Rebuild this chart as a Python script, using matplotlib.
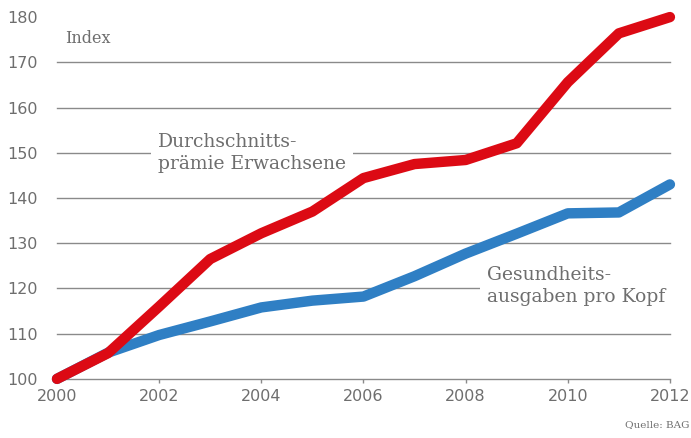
import matplotlib
matplotlib.use('Agg')
import matplotlib.pyplot as plt

# index values (2000 = 100)
years = [2000, 2001, 2002, 2003, 2004, 2005, 2006, 2007, 2008, 2009, 2010, 2011, 2012]
praemie = [100, 105.7, 116, 126.5, 132.2, 137, 144.4, 147.5, 148.4, 152.1, 165.6, 176.4, 180]
ausgaben = [100, 105.8, 109.7, 112.7, 115.8, 117.3, 118.2, 122.7, 127.7, 132.1, 136.6, 136.8, 143]

xticks = [2000, 2002, 2004, 2006, 2008, 2010, 2012]
yticks = [100, 110, 120, 130, 140, 150, 160, 170, 180]

red = '#dc0a14'
blue = '#2f7fc4'
grey = '#6e6e6e'

fig = plt.figure(figsize=(6.91, 4.38), dpi=100)
ax = fig.add_axes([0.0825, 0.135, 0.887, 0.826])

# gridlines (no line at the top value)
for y in yticks[:-1]:
    ax.axhline(y, color='#8a8a8a', lw=1.0, zorder=1, clip_on=False)

ax.plot(years, ausgaben, color=blue, lw=7.5, solid_capstyle='round',
        solid_joinstyle='round', zorder=3, clip_on=False)
ax.plot(years, praemie, color=red, lw=7.5, solid_capstyle='round',
        solid_joinstyle='round', zorder=4, clip_on=False)

ax.set_xlim(2000, 2012)
ax.set_ylim(100, 180)
ax.set_xticks(xticks)
ax.set_yticks(yticks)
for s in ax.spines.values():
    s.set_visible(False)
ax.tick_params(axis='y', length=0, pad=14, labelsize=11.5, labelcolor=grey)
ax.tick_params(axis='x', length=3, width=1, color='#8a8a8a', pad=4,
               labelsize=11.5, labelcolor=grey)
for lab in ax.get_xticklabels() + ax.get_yticklabels():
    lab.set_family('DejaVu Sans')
ax.patch.set_visible(False)

serif = 'DejaVu Serif'
box = dict(facecolor='white', edgecolor='none', pad=5)
ax.text(2001.98, 149.9, 'Durchschnitts-\nprämie Erwachsene', family=serif,
        fontsize=13.5, color=grey, va='center', ha='left', linespacing=1.3,
        bbox=box, zorder=2)
ax.text(2008.42, 120.6, 'Gesundheits-\nausgaben pro Kopf', family=serif,
        fontsize=13.5, color=grey, va='center', ha='left', linespacing=1.3,
        bbox=box, zorder=2)
ax.text(2000.15, 175.3, 'Index', family=serif, fontsize=11.5, color=grey,
        va='center', ha='left')
fig.text(0.998, 0.03, 'Quelle: BAG', family=serif, fontsize=7.5, color=grey,
         ha='right', va='center')

fig.savefig('out.png', dpi=100)
